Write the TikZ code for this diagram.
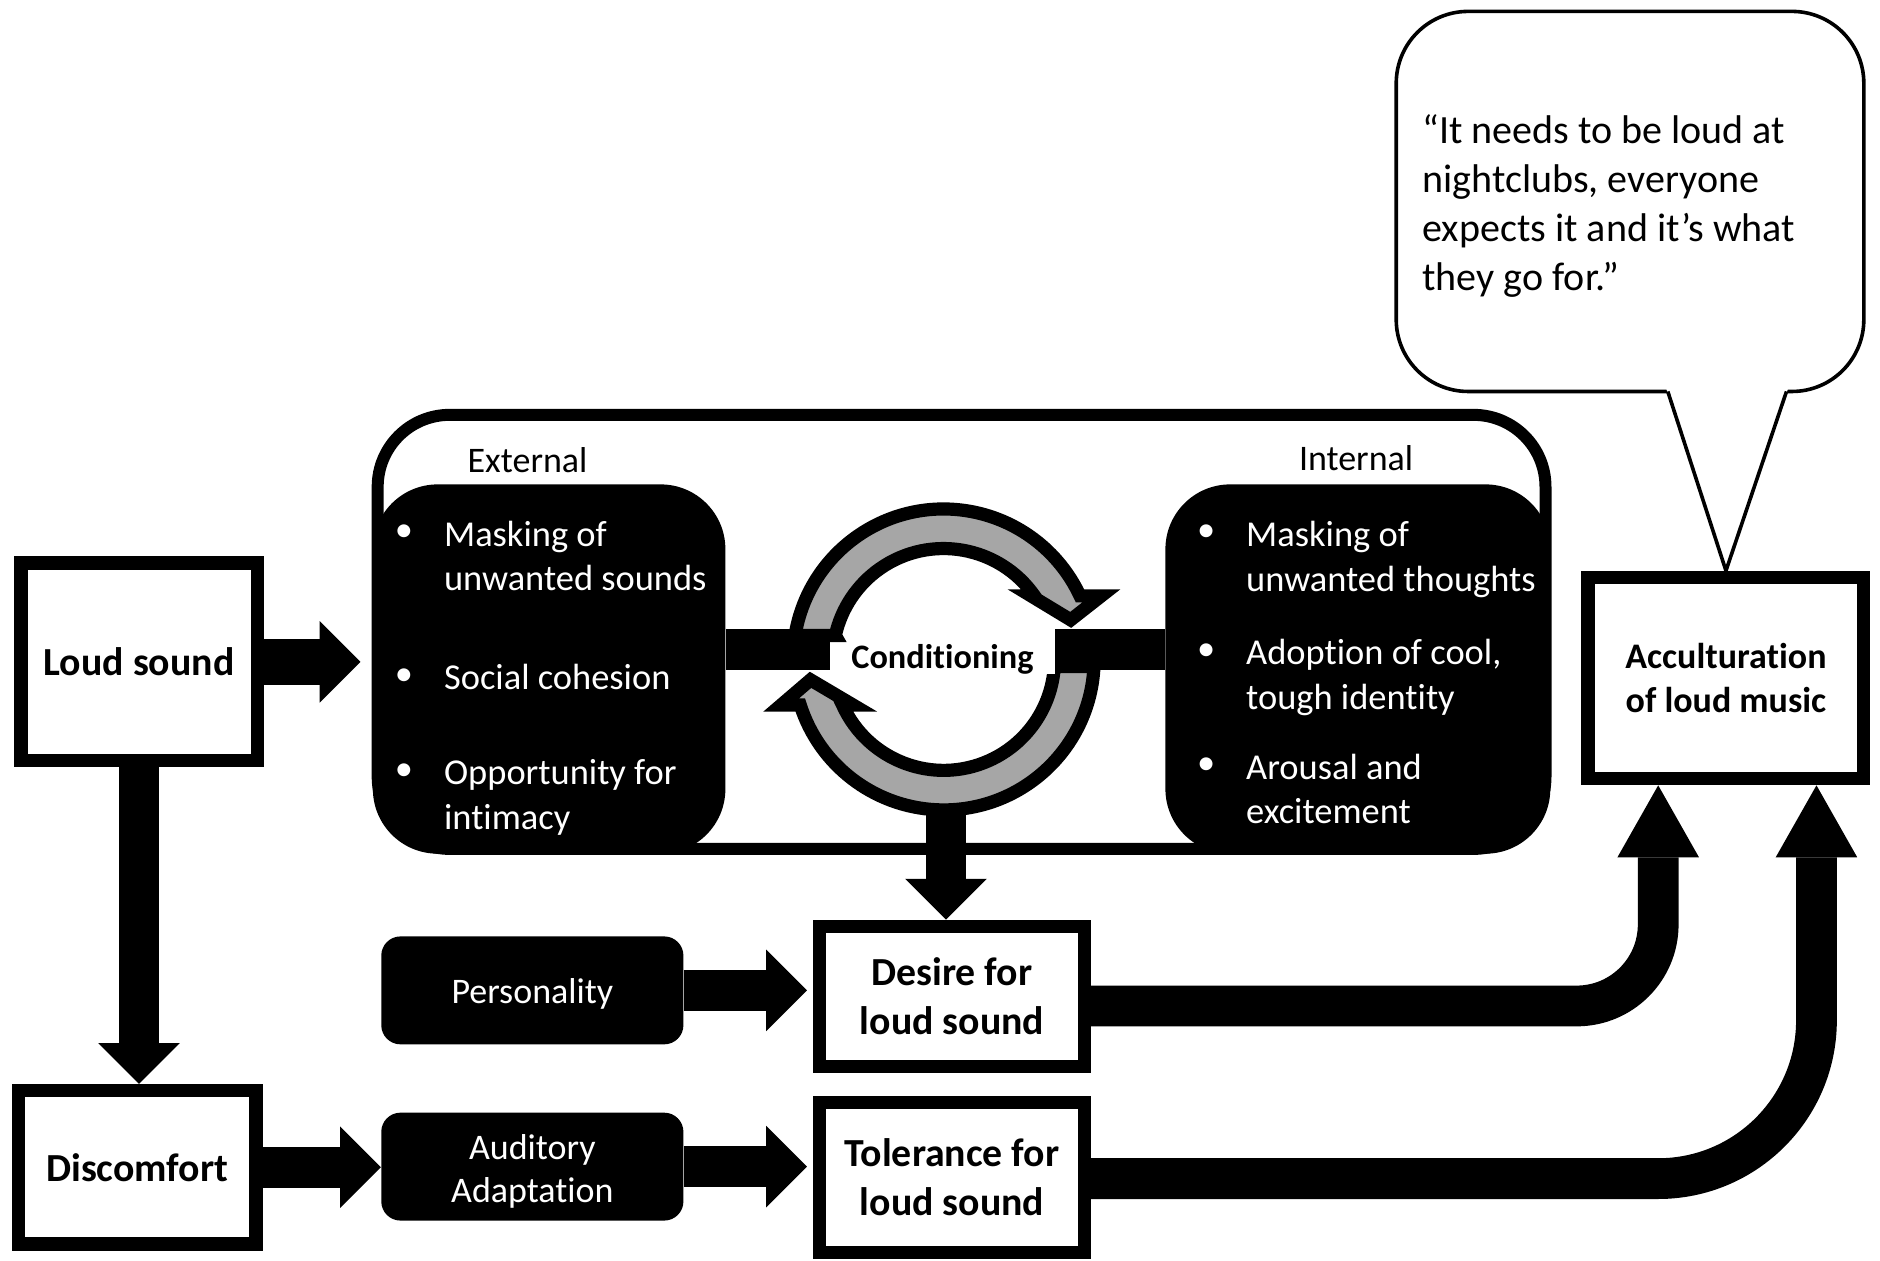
\documentclass[tikz,border=0pt]{standalone}
\usepackage{fontspec}
\setmainfont{Carlito}[Ligatures={TeX,NoCommon}]
\usetikzlibrary{arrows.meta,calc}
\definecolor{ringgray}{HTML}{A6A6A6}
\begin{document}
\begin{tikzpicture}[x=0.5pt,y=-0.5pt,
  box/.style={draw=black, line width=5.5pt, fill=white, inner sep=0pt, align=center,
    font=\bfseries\fontsize{16.6}{20.3}\selectfont},
  blk/.style={fill=black, text=white, inner sep=0pt, rounded corners=8pt, align=center,
    minimum width=126pt, minimum height=45pt, font=\fontsize{15}{18}\selectfont},
  bigblk/.style={fill=black, inner sep=0pt, rounded corners=27pt, minimum height=154pt},
  item/.style={text=white, anchor=west, align=left, inner sep=0pt, font=\fontsize{15.2}{18.5}\selectfont},
  bul/.style={text=white, inner sep=0pt, font=\fontsize{15.2}{18.5}\selectfont},
  lab/.style={inner sep=0pt, font=\fontsize{15}{18}\selectfont},
  fat/.style={line width=17pt, -{Triangle[width=34pt,length=17pt,line width=0pt]}},
  fatlong/.style={line width=17pt, -{Triangle[width=34pt,length=30pt,line width=0pt]}},
  ringarrow/.style={fill=ringgray, draw=black, line width=5.5pt, line join=miter},
]
\fill[white] (0,0) rectangle (1568,1051);
\useasboundingbox (0,0) rectangle (1568,1051);

% speech bubble
\node[draw, line width=1.5pt, rounded corners=30pt, minimum width=195pt, minimum height=158.5pt,
      inner sep=0pt, fill=white] (quote) at (1359.5,168) {};
\node[anchor=west, align=left, inner sep=0pt, font=\fontsize{16.7}{20.5}\selectfont] (qtext) at (1186,172)
  {“It needs to be loud at\\nightclubs, everyone\\expects it and it’s what\\they go for.”};

% boxes
\node[box, minimum width=98.5pt, minimum height=82.5pt] (loud) at (116,552) {Loud sound};
\node[box, minimum width=99pt, minimum height=64pt] (disc) at (114.5,973.5) {Discomfort};
\node[box, minimum width=110.5pt, minimum height=58.5pt] (desire) at (794,831) {Desire for\\loud sound};
\node[box, minimum width=110.5pt, minimum height=62.5pt] (tol) at (794,982) {Tolerance for\\loud sound};
\node[box, minimum width=115pt, minimum height=84pt, font=\bfseries\fontsize{15}{18}\selectfont] (acc) at (1439.5,565.5) {Acculturation\\of loud music};
\node[blk] (pers) at (444,826) {\raisebox{-1.5pt}[\height][\depth]{Personality}};
\node[blk] (aud) at (444,973) {\raisebox{-2pt}[\height][\depth]{\parbox{120pt}{\centering Auditory\\Adaptation}}};

% pointer of bubble
\coordinate (pb1) at (1391,326.5);
\coordinate (pb2) at (1490,326.5);
\fill[white] (1389,322) -- (acc.north) -- (1492,322) -- cycle;
\draw[line width=1.5pt, line join=miter] (pb1) -- (acc.north) -- (pb2);

% container
\node[draw, line width=5pt, rounded corners=30pt, minimum width=487pt, minimum height=181pt, inner sep=0pt] (frame) at (802,527) {};
\node[bigblk, minimum width=147pt] (ext) at (458,558) {};
\node[bigblk, minimum width=160.5pt] (int) at (1132.5,558) {};
\node[lab] (extlab) at (440,384) {External};
\node[lab] (intlab) at (1131,382) {Internal};

\node[bul] (eb1) at (337,445) {•};
\node[item] (e1) at (370,463.5) {Masking of\\unwanted sounds};
\node[bul] (eb2) at (337,565) {•};
\node[item] (e2) at (370,565) {Social cohesion};
\node[bul] (eb3) at (337,644) {•};
\node[item] (e3) at (370,665) {Opportunity for\\intimacy};

\node[bul] (ib1) at (1006,445) {•};
\node[item] (i1) at (1039,466.5) {Masking of\\unwanted thoughts};
\node[bul] (ib2) at (1006,544) {•};
\node[item] (i2) at (1039,565) {Adoption of cool,\\tough identity};
\node[bul] (ib3) at (1006,639) {•};
\node[item] (i3) at (1039,658) {Arousal and\\excitement};

% conditioning ring
\coordinate (ring) at (787,550);
\path[ringarrow] (696.7,530) -- (663.1,530) arc[start angle=-170.83, end angle=-25, radius=125.5]
  -- (918.5,497) -- (893,517) -- (860,497) -- (862.8,497)
  arc[start angle=-34.96, end angle=-167.5, radius=92.5] -- cycle;
\path[ringarrow] (879.3,556) -- (912.4,556) arc[start angle=2.74, end angle=162.4, radius=125.5]
  -- (651.5,588) -- (676,567) -- (711.5,588) -- (702.7,588)
  arc[start angle=155.74, end angle=3.72, radius=92.5] -- cycle;

\coordinate (barL) at (692,542);
\coordinate (barR) at (880,542);
\draw[line width=17pt] (ext.east |- barL) -- (barL);
\draw[line width=17pt] (barR) -- (int.west |- barR);
\node[fill=white, inner sep=0pt, minimum width=94pt, minimum height=11pt,
      font=\bfseries\fontsize{14.3}{17}\selectfont] (cond) at (786,550) {Conditioning};

% arrows
\coordinate (ringbot) at (789,676);
\draw[fat] (ringbot) -- (ringbot |- desire.north);
\draw[fat, line width=19pt] (loud.east) -- ($(loud.east -| ext.west)+(-10,0)$);
\draw[fat] (loud.south) -- (loud.south |- disc.north);
\draw[fat] (disc.east) -- (disc.east -| aud.west);
\draw[fat] (pers.east) -- ($(pers.east -| desire.west)+(-5,0)$);
\draw[fat] (aud.east) -- ($(aud.east -| tol.west)+(-5,0)$);

\coordinate (c1) at (1383,839);
\coordinate (c2) at (1515,983);
\draw[fatlong, rounded corners=34pt] (desire.east |- c1) -- (c1) -- (c1 |- acc.south);
\draw[fatlong, rounded corners=66pt] (tol.east |- c2) -- (c2) -- (c2 |- acc.south);
\end{tikzpicture}
\end{document}
